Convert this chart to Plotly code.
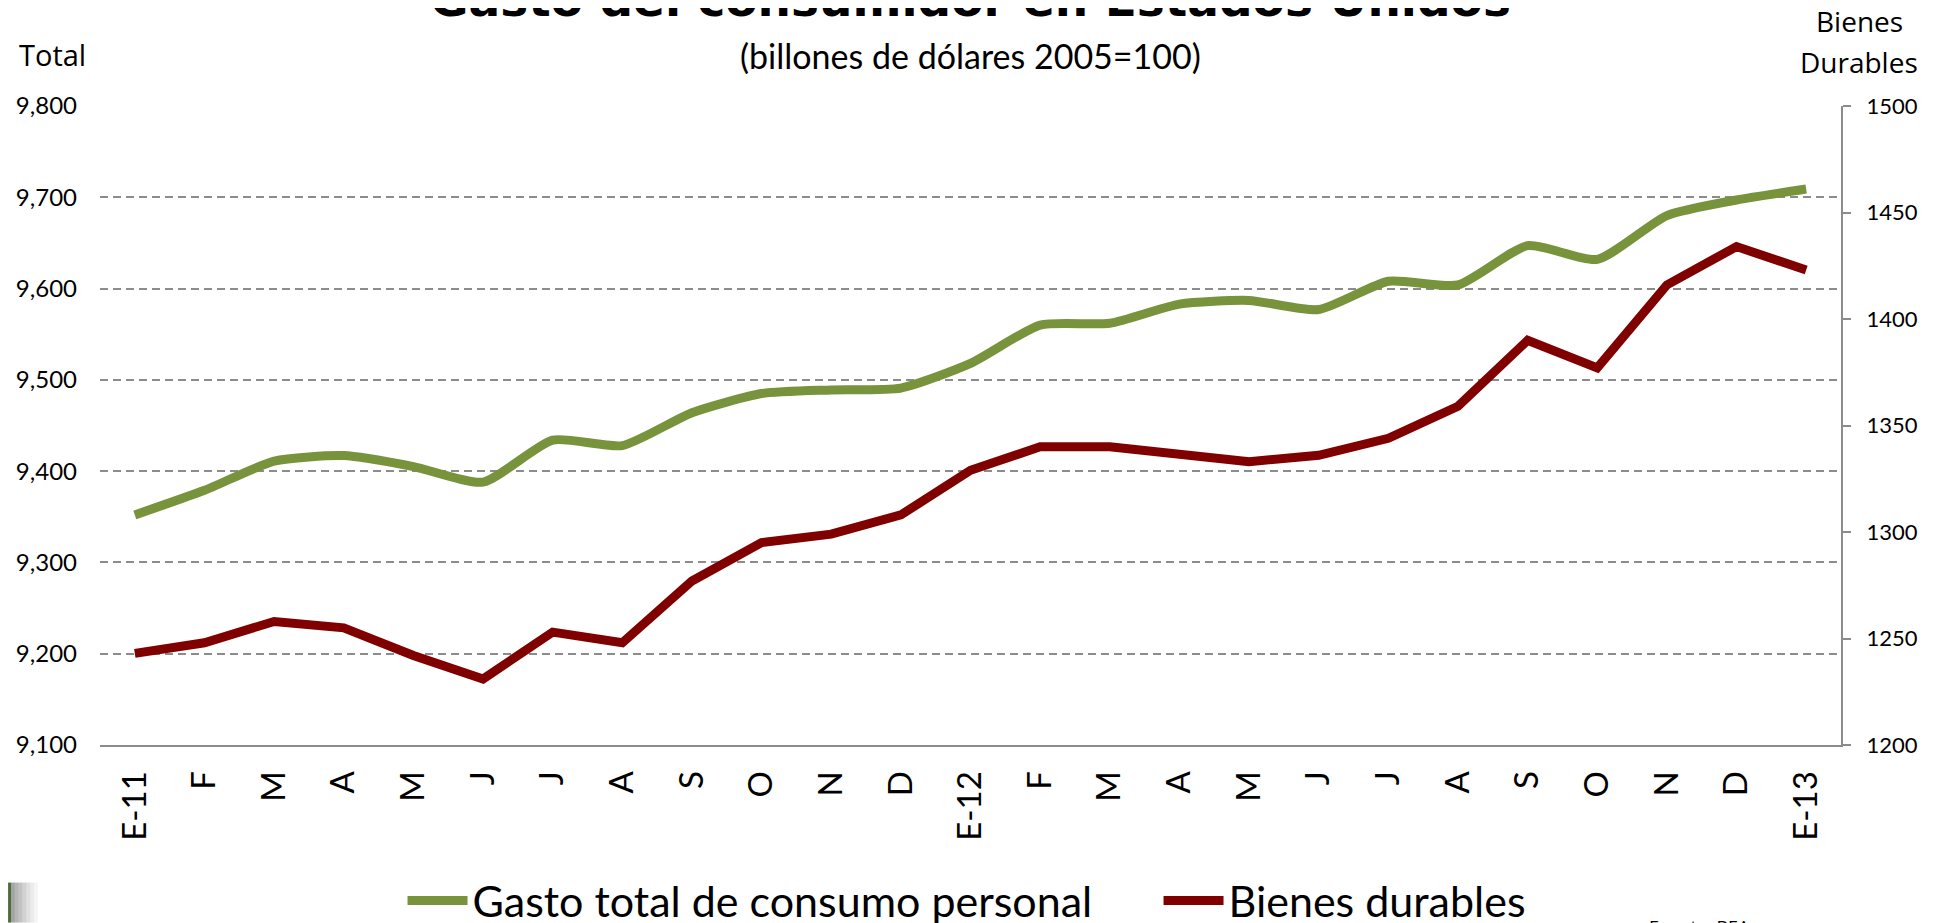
"""
Gasto del consumidor en Estados Unidos — dos ejes (total / bienes durables)
"""

import plotly.graph_objects as go

# ── datos ─────────────────────────────────────────────
meses = ["E-11", "F", "M", "A", "M", "J", "J", "A", "S", "O", "N", "D",
         "E-12", "F", "M", "A", "M", "J", "J", "A", "S", "O", "N", "D", "E-13"]

gasto_total = [9352, 9379, 9411, 9417, 9405, 9388, 9434, 9428, 9464, 9485,
               9489, 9491, 9518, 9560, 9562, 9583, 9587, 9577, 9608, 9604,
               9647, 9632, 9680, 9697, 9709]

bienes_durables = [1243, 1248, 1258, 1255, 1242, 1231, 1253, 1248, 1277, 1295,
                   1299, 1308, 1329, 1340, 1340, 1337, 1333, 1336, 1344, 1359,
                   1390, 1377, 1416, 1434, 1423]

ticks_total = [9100, 9200, 9300, 9400, 9500, 9600, 9700, 9800]
ticks_durables = [1200, 1250, 1300, 1350, 1400, 1450, 1500]

VERDE = "#77933C"
GRANATE = "#800000"
GRIS = "#8C8C8C"
FUENTE = "Lato"

x = list(range(len(meses)))

fig = go.Figure()
fig.add_trace(go.Scatter(
    x=x, y=gasto_total, mode="lines", name="Gasto total de consumo personal",
    line=dict(color=VERDE, width=9, shape="spline", smoothing=0.6),
))
fig.add_trace(go.Scatter(
    x=x, y=bienes_durables, mode="lines", name="Bienes durables", yaxis="y2",
    line=dict(color=GRANATE, width=9),
))

# la página añade 8px de margen: la figura se reduce y se corre en consecuencia
fig.update_layout(
    width=1933, height=915,
    paper_bgcolor="white", plot_bgcolor="white",
    margin=dict(l=92, r=99.5, t=98.3, b=177.6, autoexpand=False),
    font=dict(family=FUENTE, color="black"),
    xaxis=dict(
        tickmode="array", tickvals=x, ticktext=meses, tickangle=-90,
        range=[-0.5, len(meses) - 0.5], showgrid=False, zeroline=False,
        showline=True, linecolor=GRIS, linewidth=2, ticks="",
        tickfont=dict(size=33, family=FUENTE), ticklabelstandoff=11,
    ),
    yaxis=dict(
        range=[9100, 9800], tickvals=ticks_total, tickformat=",",
        showgrid=True, gridcolor=GRIS, gridwidth=2, griddash="8px,5px",
        zeroline=False, showline=False, ticks="",
        tickfont=dict(size=24, family=FUENTE), ticklabelstandoff=22,
    ),
    yaxis2=dict(
        range=[1200, 1500], tickvals=ticks_durables, overlaying="y", side="right",
        showgrid=False, zeroline=False, showline=True, linecolor=GRIS, linewidth=2,
        ticks="outside", ticklen=8, tickwidth=2, tickcolor=GRIS,
        tickfont=dict(size=22, family=FUENTE), ticklabelstandoff=11,
    ),
    legend=dict(
        orientation="h", x=0.608, xanchor="center", y=-0.2435, yanchor="middle",
        font=dict(size=43, family=FUENTE), itemwidth=60, entrywidth=681,
    ),
    showlegend=True,
)

# título (recortado arriba como en la lámina original)
fig.add_annotation(
    text="<b>Gasto del consumidor en Estados Unidos</b>",
    xref="paper", yref="paper", x=0.5, y=1.121, xanchor="center", yanchor="bottom",
    showarrow=False, font=dict(size=47, family="DejaVu Sans", color="black"),
)
fig.add_annotation(
    text="(billones de dólares 2005=100)",
    xref="paper", yref="paper", x=0.5, y=1.0792, xanchor="center", yanchor="middle",
    showarrow=False, font=dict(size=34, family=FUENTE),
)
fig.add_annotation(
    text="Total", xref="paper", yref="paper", x=-0.0477, y=1.0809,
    xanchor="left", yanchor="middle", showarrow=False,
    font=dict(size=29, family="Open Sans"),
)
fig.add_annotation(
    text="Bienes", xref="paper", yref="paper", x=1.0106, y=1.1335,
    xanchor="center", yanchor="middle", showarrow=False,
    font=dict(size=28, family="Open Sans"),
)
fig.add_annotation(
    text="Durables", xref="paper", yref="paper", x=1.0106, y=1.0693,
    xanchor="center", yanchor="middle", showarrow=False,
    font=dict(size=28, family="Open Sans"),
)
fig.add_annotation(
    text="Fuente: BEA", xref="paper", yref="paper", x=0.8883, y=-0.2842,
    xanchor="left", yanchor="middle", showarrow=False,
    font=dict(size=18, family="Open Sans"),
)

# marca decorativa abajo a la izquierda
x_ini, paso = -0.0528, 0.0022
for i, op in enumerate([0.55, 0.45, 0.36, 0.27, 0.19, 0.12, 0.06]):
    fig.add_shape(type="rect", xref="paper", yref="paper",
                  x0=x_ini + 0.0017 + i * paso, x1=x_ini + 0.0017 + (i + 1) * paso,
                  y0=-0.2153, y1=-0.2779, fillcolor=f"rgba(90,90,90,{op})", line_width=0)
fig.add_shape(type="rect", xref="paper", yref="paper",
              x0=x_ini, x1=x_ini + 0.0017, y0=-0.2153, y1=-0.2779,
              fillcolor="#4E6B3A", line_width=0)

fig.write_html("out.html")
